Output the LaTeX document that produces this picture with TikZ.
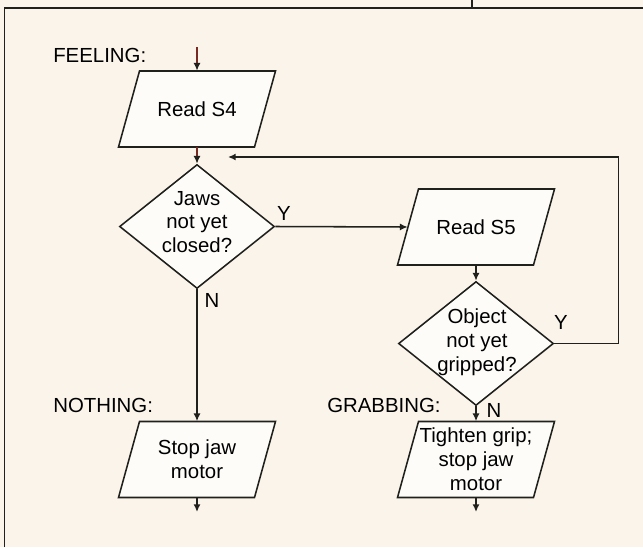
\documentclass[tikz,border=0pt]{standalone}
\usepackage{fontspec}
\setmainfont{Liberation Sans}
\usetikzlibrary{shapes.geometric,arrows.meta,calc}
\definecolor{paper}{RGB}{250,244,234}
\definecolor{boxfill}{RGB}{253,252,249}
\definecolor{ink}{RGB}{32,32,28}
\definecolor{rust}{RGB}{120,42,34}
\tikzset{
  iotext/.style={rectangle, minimum width=3.4cm, minimum height=1.9cm,
    inner sep=0pt, align=center, font=\fontsize{14.5}{17}\selectfont},
  ioline/.style={draw=ink, fill=boxfill, line width=1.1pt, line join=miter},
  decide/.style={diamond, draw=ink, fill=boxfill, line width=1.1pt,
    minimum width=3.875cm, minimum height=3.1cm, inner sep=0pt},
  qtext/.style={align=center, inner sep=0pt, font=\fontsize{14.5}{17}\selectfont},
  tag/.style={anchor=base west, inner sep=0pt, font=\fontsize{14.5}{17}\selectfont},
  lbl/.style={inner sep=0pt, font=\fontsize{14.5}{17}\selectfont},
  flow/.style={-{Latex[length=5.5pt,width=5pt]}, draw=ink, line width=1.1pt},
  inflow/.style={-{Latex[length=5.5pt,width=5pt,color=ink]}, draw=rust, line width=1.1pt},
}
% slanted input/output box: name, position, text
\newcommand\iobox[3]{%
  \draw[ioline] ($(#2)+(-57.5,-38)$) -- ($(#2)+(78.5,-38)$)
    -- ($(#2)+(57.5,38)$) -- ($(#2)+(-78.5,38)$) -- cycle;
  \node[iotext] (#1) at (#2) {#3};
}
\begin{document}
\begin{tikzpicture}[x=0.025cm,y=-0.025cm]
\useasboundingbox (0,0) rectangle (643,547);
\fill[paper] (0,0) rectangle (643,547);
\draw[ink, line width=1.4pt] (4.5,547) -- (4.5,8) -- (643,8);
\draw[ink, line width=1pt] (472,0) -- (472,8);

% left column
\node[tag] (feel) at (53,62) {FEELING:};
\coordinate (start) at (197,47);
\iobox{reads4}{197,109}{Read S4}
\node[decide] (jaws) at (197,226.5) {};
\node[qtext] (jawsq) at (197,222) {Jaws\\not yet\\closed?};
\node[tag] (none) at (53,412) {NOTHING:};
\iobox{stopm}{197,459.5}{Stop jaw\\motor}
\coordinate (end1) at (197,512);

% right column
\iobox{reads5}{476,227}{Read S5}
\node[decide] (grip) at (476,343.5) {};
\node[qtext] (gripq) at (477,342) {Object\\not yet\\gripped?};
\node[tag] (grab) at (327,412) {GRABBING:};
\iobox{tighten}{476,459.5}{Tighten grip;\\stop jaw\\motor}
\coordinate (end2) at (476,512);
\coordinate (back) at (228,157);

% connectors
\draw[inflow] (start) -- (reads4);
\draw[inflow] (reads4) -- (jaws);
\draw[flow] (jaws.east) -- (reads5.west);
\node[lbl] (y1) at (284,213) {Y};
\draw[flow] (jaws) -- (stopm);
\node[lbl] (n1) at (212,300) {N};
\draw[flow] (stopm) -- (end1);
\draw[flow] (reads5) -- (grip);
\draw[flow] (grip.east) -- ++(64,0) |- (back);
\node[lbl] (y2) at (561,322) {Y};
\draw[flow] (grip) -- (tighten);
\node[lbl] (n2) at (494,410) {N};
\draw[flow] (tighten) -- (end2);
\end{tikzpicture}
\end{document}
